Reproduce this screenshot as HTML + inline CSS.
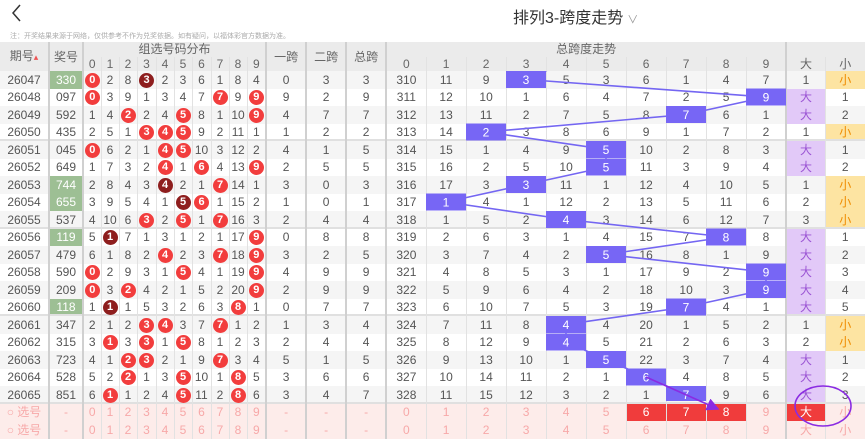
<!DOCTYPE html>
<html><head><meta charset="utf-8"><style>
*{margin:0;padding:0;box-sizing:border-box}
body{width:865px;height:429px;overflow:hidden;background:#fff;font-family:"Liberation Sans","Noto Sans CJK SC",sans-serif;position:relative}
.title{position:absolute;left:513px;top:4px;font-size:16px;color:#333;white-space:nowrap}
.title span{color:#999;font-size:11px;margin-left:4px}
.note{position:absolute;left:10px;top:31px;font-size:7px;color:#aaa;white-space:nowrap}
table{position:absolute;left:0;top:42px;border-collapse:collapse;table-layout:fixed;width:865px}
td,th{font-size:12px;color:#555;text-align:center;font-weight:normal;padding:0;border-right:1px solid #e2e2e2;white-space:nowrap;overflow:hidden;line-height:16px}
th{background:#ebebeb;height:14.5px;line-height:14px;color:#666}
tbody td{height:17.5px}
tbody tr:nth-child(odd){background:#f5f5f5}
tbody tr:nth-child(even){background:#fff}
.k{border-right:2px solid #d0d0d0}
tr.sep td{box-shadow:inset 0 -2px #e0e0e0}
.g{background:#9dbf94;color:#fff}
.r,.d{display:inline-block;width:15px;height:15px;border-radius:50%;background:#f23d3d;color:#fff;line-height:15px;font-size:11px;vertical-align:middle}
.d{background:#8e1e1e}
.B{background:#e2c9f8;color:#9b55d4}
.S{background:#fde4a2;color:#f08c00}
tr.sel td{background:#fdecea;color:#f7a8a8}
tr.sel td.R{background:#f03c3c;color:#fff}
svg{position:absolute;left:0;top:0}
</style></head><body>
<div class="title">排列3-跨度走势<span>&#x2228;</span></div>
<div class="note">注：开奖结果来源于网络，仅供参考不作为兑奖依据。如有疑问，以福体彩官方数据为准。</div>
<table>
<colgroup><col style="width:49px"><col style="width:34px"><col style="width:18px"><col style="width:18px"><col style="width:18px"><col style="width:19px"><col style="width:18px"><col style="width:18px"><col style="width:19px"><col style="width:18px"><col style="width:18px"><col style="width:19px"><col style="width:40px"><col style="width:40px"><col style="width:40px"><col style="width:40px"><col style="width:40px"><col style="width:40px"><col style="width:40px"><col style="width:40px"><col style="width:40px"><col style="width:40px"><col style="width:40px"><col style="width:40px"><col style="width:40px"><col style="width:39px"><col style="width:40px"></colgroup>
<thead>
<tr><th rowspan="2" class="k">期号<span style="color:#e55;font-size:9px">&#x25B4;</span></th><th rowspan="2" class="k">奖号</th><th colspan="10" class="k">组选号码分布</th><th rowspan="2" class="k">一跨</th><th rowspan="2" class="k">二跨</th><th rowspan="2" class="k">总跨</th><th colspan="10" class="k">总跨度走势</th><th colspan="2"></th></tr>
<tr><th>0</th><th>1</th><th>2</th><th>3</th><th>4</th><th>5</th><th>6</th><th>7</th><th>8</th><th class="k">9</th><th>0</th><th>1</th><th>2</th><th>3</th><th>4</th><th>5</th><th>6</th><th>7</th><th>8</th><th class="k">9</th><th>大</th><th>小</th></tr>
</thead>
<tbody>
<tr><td class="k">26047</td><td class="k g">330</td><td><b class="r">0</b></td><td>2</td><td>8</td><td><b class="d">3</b></td><td>2</td><td>3</td><td>6</td><td>1</td><td>8</td><td class="k">4</td><td class="k">0</td><td class="k">3</td><td class="k">3</td><td>310</td><td>11</td><td>9</td><td></td><td>5</td><td>3</td><td>6</td><td>1</td><td>4</td><td class="k">7</td><td>1</td><td class="S">小</td></tr>
<tr><td class="k">26048</td><td class="k">097</td><td><b class="r">0</b></td><td>3</td><td>9</td><td>1</td><td>3</td><td>4</td><td>7</td><td><b class="r">7</b></td><td>9</td><td class="k"><b class="r">9</b></td><td class="k">9</td><td class="k">2</td><td class="k">9</td><td>311</td><td>12</td><td>10</td><td>1</td><td>6</td><td>4</td><td>7</td><td>2</td><td>5</td><td class="k"></td><td class="B">大</td><td>1</td></tr>
<tr><td class="k">26049</td><td class="k">592</td><td>1</td><td>4</td><td><b class="r">2</b></td><td>2</td><td>4</td><td><b class="r">5</b></td><td>8</td><td>1</td><td>10</td><td class="k"><b class="r">9</b></td><td class="k">4</td><td class="k">7</td><td class="k">7</td><td>312</td><td>13</td><td>11</td><td>2</td><td>7</td><td>5</td><td>8</td><td></td><td>6</td><td class="k">1</td><td class="B">大</td><td>2</td></tr>
<tr class="sep"><td class="k">26050</td><td class="k">435</td><td>2</td><td>5</td><td>1</td><td><b class="r">3</b></td><td><b class="r">4</b></td><td><b class="r">5</b></td><td>9</td><td>2</td><td>11</td><td class="k">1</td><td class="k">1</td><td class="k">2</td><td class="k">2</td><td>313</td><td>14</td><td></td><td>3</td><td>8</td><td>6</td><td>9</td><td>1</td><td>7</td><td class="k">2</td><td>1</td><td class="S">小</td></tr>
<tr><td class="k">26051</td><td class="k">045</td><td><b class="r">0</b></td><td>6</td><td>2</td><td>1</td><td><b class="r">4</b></td><td><b class="r">5</b></td><td>10</td><td>3</td><td>12</td><td class="k">2</td><td class="k">4</td><td class="k">1</td><td class="k">5</td><td>314</td><td>15</td><td>1</td><td>4</td><td>9</td><td></td><td>10</td><td>2</td><td>8</td><td class="k">3</td><td class="B">大</td><td>1</td></tr>
<tr><td class="k">26052</td><td class="k">649</td><td>1</td><td>7</td><td>3</td><td>2</td><td><b class="r">4</b></td><td>1</td><td><b class="r">6</b></td><td>4</td><td>13</td><td class="k"><b class="r">9</b></td><td class="k">2</td><td class="k">5</td><td class="k">5</td><td>315</td><td>16</td><td>2</td><td>5</td><td>10</td><td></td><td>11</td><td>3</td><td>9</td><td class="k">4</td><td class="B">大</td><td>2</td></tr>
<tr><td class="k">26053</td><td class="k g">744</td><td>2</td><td>8</td><td>4</td><td>3</td><td><b class="d">4</b></td><td>2</td><td>1</td><td><b class="r">7</b></td><td>14</td><td class="k">1</td><td class="k">3</td><td class="k">0</td><td class="k">3</td><td>316</td><td>17</td><td>3</td><td></td><td>11</td><td>1</td><td>12</td><td>4</td><td>10</td><td class="k">5</td><td>1</td><td class="S">小</td></tr>
<tr><td class="k">26054</td><td class="k g">655</td><td>3</td><td>9</td><td>5</td><td>4</td><td>1</td><td><b class="d">5</b></td><td><b class="r">6</b></td><td>1</td><td>15</td><td class="k">2</td><td class="k">1</td><td class="k">0</td><td class="k">1</td><td>317</td><td></td><td>4</td><td>1</td><td>12</td><td>2</td><td>13</td><td>5</td><td>11</td><td class="k">6</td><td>2</td><td class="S">小</td></tr>
<tr class="sep"><td class="k">26055</td><td class="k">537</td><td>4</td><td>10</td><td>6</td><td><b class="r">3</b></td><td>2</td><td><b class="r">5</b></td><td>1</td><td><b class="r">7</b></td><td>16</td><td class="k">3</td><td class="k">2</td><td class="k">4</td><td class="k">4</td><td>318</td><td>1</td><td>5</td><td>2</td><td></td><td>3</td><td>14</td><td>6</td><td>12</td><td class="k">7</td><td>3</td><td class="S">小</td></tr>
<tr><td class="k">26056</td><td class="k g">119</td><td>5</td><td><b class="d">1</b></td><td>7</td><td>1</td><td>3</td><td>1</td><td>2</td><td>1</td><td>17</td><td class="k"><b class="r">9</b></td><td class="k">0</td><td class="k">8</td><td class="k">8</td><td>319</td><td>2</td><td>6</td><td>3</td><td>1</td><td>4</td><td>15</td><td>7</td><td></td><td class="k">8</td><td class="B">大</td><td>1</td></tr>
<tr><td class="k">26057</td><td class="k">479</td><td>6</td><td>1</td><td>8</td><td>2</td><td><b class="r">4</b></td><td>2</td><td>3</td><td><b class="r">7</b></td><td>18</td><td class="k"><b class="r">9</b></td><td class="k">3</td><td class="k">2</td><td class="k">5</td><td>320</td><td>3</td><td>7</td><td>4</td><td>2</td><td></td><td>16</td><td>8</td><td>1</td><td class="k">9</td><td class="B">大</td><td>2</td></tr>
<tr><td class="k">26058</td><td class="k">590</td><td><b class="r">0</b></td><td>2</td><td>9</td><td>3</td><td>1</td><td><b class="r">5</b></td><td>4</td><td>1</td><td>19</td><td class="k"><b class="r">9</b></td><td class="k">4</td><td class="k">9</td><td class="k">9</td><td>321</td><td>4</td><td>8</td><td>5</td><td>3</td><td>1</td><td>17</td><td>9</td><td>2</td><td class="k"></td><td class="B">大</td><td>3</td></tr>
<tr><td class="k">26059</td><td class="k">209</td><td><b class="r">0</b></td><td>3</td><td><b class="r">2</b></td><td>4</td><td>2</td><td>1</td><td>5</td><td>2</td><td>20</td><td class="k"><b class="r">9</b></td><td class="k">2</td><td class="k">9</td><td class="k">9</td><td>322</td><td>5</td><td>9</td><td>6</td><td>4</td><td>2</td><td>18</td><td>10</td><td>3</td><td class="k"></td><td class="B">大</td><td>4</td></tr>
<tr class="sep"><td class="k">26060</td><td class="k g">118</td><td>1</td><td><b class="d">1</b></td><td>1</td><td>5</td><td>3</td><td>2</td><td>6</td><td>3</td><td><b class="r">8</b></td><td class="k">1</td><td class="k">0</td><td class="k">7</td><td class="k">7</td><td>323</td><td>6</td><td>10</td><td>7</td><td>5</td><td>3</td><td>19</td><td></td><td>4</td><td class="k">1</td><td class="B">大</td><td>5</td></tr>
<tr><td class="k">26061</td><td class="k">347</td><td>2</td><td>1</td><td>2</td><td><b class="r">3</b></td><td><b class="r">4</b></td><td>3</td><td>7</td><td><b class="r">7</b></td><td>1</td><td class="k">2</td><td class="k">1</td><td class="k">3</td><td class="k">4</td><td>324</td><td>7</td><td>11</td><td>8</td><td></td><td>4</td><td>20</td><td>1</td><td>5</td><td class="k">2</td><td>1</td><td class="S">小</td></tr>
<tr><td class="k">26062</td><td class="k">315</td><td>3</td><td><b class="r">1</b></td><td>3</td><td><b class="r">3</b></td><td>1</td><td><b class="r">5</b></td><td>8</td><td>1</td><td>2</td><td class="k">3</td><td class="k">2</td><td class="k">4</td><td class="k">4</td><td>325</td><td>8</td><td>12</td><td>9</td><td></td><td>5</td><td>21</td><td>2</td><td>6</td><td class="k">3</td><td>2</td><td class="S">小</td></tr>
<tr><td class="k">26063</td><td class="k">723</td><td>4</td><td>1</td><td><b class="r">2</b></td><td><b class="r">3</b></td><td>2</td><td>1</td><td>9</td><td><b class="r">7</b></td><td>3</td><td class="k">4</td><td class="k">5</td><td class="k">1</td><td class="k">5</td><td>326</td><td>9</td><td>13</td><td>10</td><td>1</td><td></td><td>22</td><td>3</td><td>7</td><td class="k">4</td><td class="B">大</td><td>1</td></tr>
<tr><td class="k">26064</td><td class="k">528</td><td>5</td><td>2</td><td><b class="r">2</b></td><td>1</td><td>3</td><td><b class="r">5</b></td><td>10</td><td>1</td><td><b class="r">8</b></td><td class="k">5</td><td class="k">3</td><td class="k">6</td><td class="k">6</td><td>327</td><td>10</td><td>14</td><td>11</td><td>2</td><td>1</td><td></td><td>4</td><td>8</td><td class="k">5</td><td class="B">大</td><td>2</td></tr>
<tr class="sep"><td class="k">26065</td><td class="k">851</td><td>6</td><td><b class="r">1</b></td><td>1</td><td>2</td><td>4</td><td><b class="r">5</b></td><td>11</td><td>2</td><td><b class="r">8</b></td><td class="k">6</td><td class="k">3</td><td class="k">4</td><td class="k">7</td><td>328</td><td>11</td><td>15</td><td>12</td><td>3</td><td>2</td><td>1</td><td></td><td>9</td><td class="k">6</td><td class="B">大</td><td>3</td></tr>
<tr class="sel"><td class="k">&#x25CB; 选号</td><td class="k">-</td><td>0</td><td>1</td><td>2</td><td>3</td><td>4</td><td>5</td><td>6</td><td>7</td><td>8</td><td class="k">9</td><td class="k">-</td><td class="k">-</td><td class="k">-</td><td>0</td><td>1</td><td>2</td><td>3</td><td>4</td><td>5</td><td class="R">6</td><td class="R">7</td><td class="R">8</td><td class="k">9</td><td class="R">大</td><td>小</td></tr>
<tr class="sel"><td class="k">&#x25CB; 选号</td><td class="k">-</td><td>0</td><td>1</td><td>2</td><td>3</td><td>4</td><td>5</td><td>6</td><td>7</td><td>8</td><td class="k">9</td><td class="k">-</td><td class="k">-</td><td class="k">-</td><td>0</td><td>1</td><td>2</td><td>3</td><td>4</td><td>5</td><td>6</td><td>7</td><td>8</td><td class="k">9</td><td>大</td><td>小</td></tr>
</tbody></table>
<svg width="865" height="429" viewBox="0 0 865 429">
<defs><clipPath id="c"><rect x="0" y="71" width="865" height="330"/></clipPath>
<marker id="a" markerWidth="8" markerHeight="8" refX="7" refY="4" orient="auto"><path d="M0,0 L8,4 L0,8 z" fill="#8a2be2"/></marker></defs>
<polyline points="20,5 13,13 20,21" fill="none" stroke="#333" stroke-width="1.5"/>
<g clip-path="url(#c)">
<polyline fill="none" stroke="#7466f2" stroke-width="1.6" points="566,62 526,79.5 766,97 686,114.5 486,132 606,149.5 606,167 526,184.5 446,202 566,219.5 726,237 606,254.5 766,272 766,289.5 686,307 566,324.5 566,342 606,359.5 646,377 686,394.5"/>
<g fill="#7766f5">
<rect x="506" y="71" width="40" height="17"/><rect x="746" y="88.5" width="40" height="17"/><rect x="666" y="106" width="40" height="17"/><rect x="466" y="123.5" width="40" height="17"/><rect x="586" y="141" width="40" height="17"/><rect x="586" y="158.5" width="40" height="17"/><rect x="506" y="176" width="40" height="17"/><rect x="426" y="193.5" width="40" height="17"/><rect x="546" y="211" width="40" height="17"/><rect x="706" y="228.5" width="40" height="17"/><rect x="586" y="246" width="40" height="17"/><rect x="746" y="263.5" width="40" height="17"/><rect x="746" y="281" width="40" height="17"/><rect x="666" y="298.5" width="40" height="17"/><rect x="546" y="316" width="40" height="17"/><rect x="546" y="333.5" width="40" height="17"/><rect x="586" y="351" width="40" height="17"/><rect x="626" y="368.5" width="40" height="17"/><rect x="666" y="386" width="40" height="17"/>
</g>
<g fill="#fff" font-size="12" text-anchor="middle" font-family="Liberation Sans,sans-serif">
<text x="526" y="84">3</text><text x="766" y="101.5">9</text><text x="686" y="119">7</text><text x="486" y="136.5">2</text><text x="606" y="154">5</text><text x="606" y="171.5">5</text><text x="526" y="189">3</text><text x="446" y="206.5">1</text><text x="566" y="224">4</text><text x="726" y="241.5">8</text><text x="606" y="259">5</text><text x="766" y="276.5">9</text><text x="766" y="294">9</text><text x="686" y="311.5">7</text><text x="566" y="329">4</text><text x="566" y="346.5">4</text><text x="606" y="364">5</text><text x="646" y="381.5">6</text><text x="686" y="399">7</text>
</g>
</g>
<line x1="646" y1="377" x2="718" y2="409" stroke="#8a2be2" stroke-width="1.6" marker-end="url(#a)"/>
<ellipse cx="823" cy="406" rx="28" ry="20" fill="none" stroke="#8a2be2" stroke-width="1.6"/>
</svg>
</body></html>
